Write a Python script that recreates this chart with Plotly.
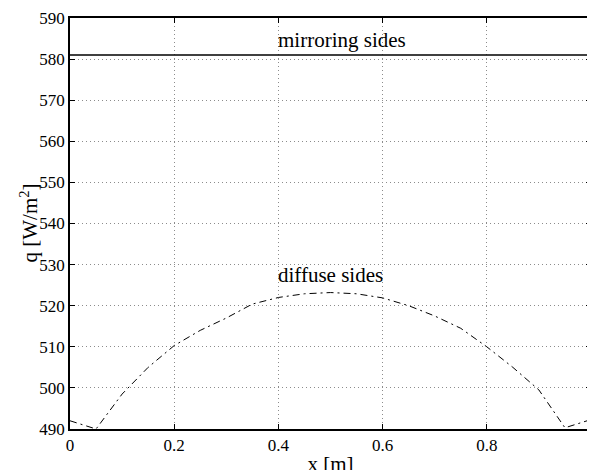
import plotly.graph_objects as go

x_diffuse = [0.0, 0.05, 0.1, 0.15, 0.2, 0.25, 0.3, 0.35, 0.4, 0.45, 0.5,
             0.55, 0.6, 0.65, 0.7, 0.75, 0.8, 0.85, 0.9, 0.95, 1.0]
q_diffuse = [492.0, 490.0, 498.5, 505.0, 510.3, 514.0, 517.0, 520.4, 522.0, 522.9, 523.2,
             522.9, 521.9, 520.0, 517.5, 514.5, 510.0, 505.0, 499.5, 490.3, 492.3]
x_mirror = [0.0, 1.0]
q_mirror = [581.0, 581.0]

x_ticks = [0, 0.2, 0.4, 0.6, 0.8, 1]
x_ticklabels = ["0", "0.2", "0.4", "0.6", "0.8", "1"]
y_ticks = [490, 500, 510, 520, 530, 540, 550, 560, 570, 580, 590]

labels = ["mirroring sides", "diffuse sides"]
label_x = [0.40, 0.40]
label_y = [584.6, 527.5]

font_family = "Liberation Serif, Times New Roman, serif"

fig = go.Figure()
fig.add_trace(go.Scatter(x=x_mirror, y=q_mirror, mode="lines",
                         line=dict(color="black", width=1.3), showlegend=False))
fig.add_trace(go.Scatter(x=x_diffuse, y=q_diffuse, mode="lines",
                         line=dict(color="black", width=1, dash="7px,4px,2px,4px"),
                         showlegend=False))

for t, xx, yy in zip(labels, label_x, label_y):
    fig.add_annotation(x=xx, y=yy, text=t, showarrow=False, xanchor="left",
                       yanchor="middle", xshift=-2,
                       font=dict(family=font_family, size=21, color="black"))

# y-axis title as rotated annotation to position it precisely
fig.add_annotation(xref="paper", yref="paper", x=0, y=0.5, xshift=-41,
                   text="q [W/m<sup>2</sup>]", textangle=-90, showarrow=False,
                   xanchor="center", yanchor="middle",
                   font=dict(family=font_family, size=21, color="black"))

# last x tick label drawn as an annotation (edge label)
shown_ticktext = x_ticklabels[:-1] + [""]
fig.add_annotation(x=x_ticks[-1], xref="x", yref="paper", y=0, yshift=-14,
                   text=x_ticklabels[-1], showarrow=False, xanchor="center",
                   yanchor="middle",
                   font=dict(family=font_family, size=17, color="black"))

axis_common = dict(showline=True, linecolor="black", linewidth=1.5, mirror="ticks",
                   ticks="inside", ticklen=5, tickcolor="black", tickwidth=1,
                   showgrid=True, gridcolor="#8c8c8c", gridwidth=1, griddash="1px,3px",
                   zeroline=False, ticklabeloverflow="allow",
                   tickfont=dict(family=font_family, size=17, color="black"))

fig.update_xaxes(range=[0, 1], tickvals=x_ticks, ticktext=shown_ticktext,
                 title=dict(text="x [m]", standoff=2,
                            font=dict(family=font_family, size=21, color="black")),
                 **axis_common)
fig.update_yaxes(range=[490, 590], tickvals=y_ticks, **axis_common)

fig.update_layout(width=595, height=470,
                  margin=dict(l=62, r=12, t=10, b=49, autoexpand=False),
                  paper_bgcolor="white", plot_bgcolor="white",
                  font=dict(family=font_family, color="black"))

fig.write_html("out.html")
